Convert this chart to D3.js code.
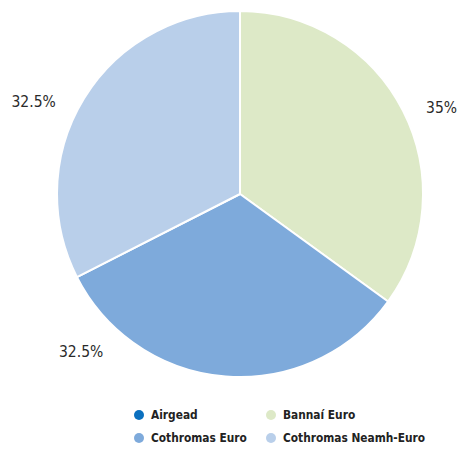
<!DOCTYPE html>
<html><head><meta charset="utf-8">
<script src="https://cdn.jsdelivr.net/npm/d3@7"></script>
<style>
body{margin:0;background:#fff;}
text{font-family:"DejaVu Sans",sans-serif;font-stretch:condensed;}
</style></head>
<body><svg id="c" width="459" height="451"></svg>
<script>
const categories = ["Airgead","Bannaí Euro","Cothromas Euro","Cothromas Neamh-Euro"];
const values = [0, 35, 32.5, 32.5];
const labels = ["", "35%", "32.5%", "32.5%"];
const colors = ["#0b70bf","#dde9c7","#7eaadb","#b9cfea"];

const svg = d3.select("#c");
const cx = 240, cy = 194, r = 183;
const g = svg.append("g").attr("transform",`translate(${cx},${cy})`);
const data = categories.map((c,i)=>({name:c,value:values[i],label:labels[i],color:colors[i]}));
const pie = d3.pie().sort(null).value(d=>d.value);
const arcs = pie(data);
const arc = d3.arc().innerRadius(0).outerRadius(r);
g.selectAll("path").data(arcs.filter(a=>a.value>0)).join("path")
  .attr("d",arc).attr("fill",d=>d.data.color)
  .attr("stroke","#fff").attr("stroke-width",2).attr("stroke-linejoin","round");

// label placement (angle shift for crowded bottom label)
const shift = {"Bannaí Euro":0.07, "Cothromas Euro":0.71, "Cothromas Neamh-Euro":-0.13};
const dist = {"Bannaí Euro":219, "Cothromas Euro":224, "Cothromas Neamh-Euro":226};
g.selectAll("text.lbl").data(arcs.filter(a=>a.value>0)).join("text")
  .attr("class","lbl")
  .attr("x",d=>{const a=(d.startAngle+d.endAngle)/2+shift[d.data.name];return Math.sin(a)*dist[d.data.name];})
  .attr("y",d=>{const a=(d.startAngle+d.endAngle)/2+shift[d.data.name];return -Math.cos(a)*dist[d.data.name];})
  .attr("text-anchor","middle").attr("dominant-baseline","central")
  .attr("font-size",15.5).attr("fill","#2a2a2a").text(d=>d.data.label);

// legend
const lg = svg.append("g");
const cols = [139, 271], rows = [415, 438];
data.forEach((d,i)=>{
  const x = cols[i%2], y = rows[Math.floor(i/2)];
  lg.append("circle").attr("cx",x).attr("cy",y).attr("r",5).attr("fill",d.color);
  lg.append("text").attr("x",x+12).attr("y",y).attr("dominant-baseline","central")
    .attr("font-size",11.8).attr("font-weight","bold").attr("fill","#222").text(d.name);
});
</script></body></html>
